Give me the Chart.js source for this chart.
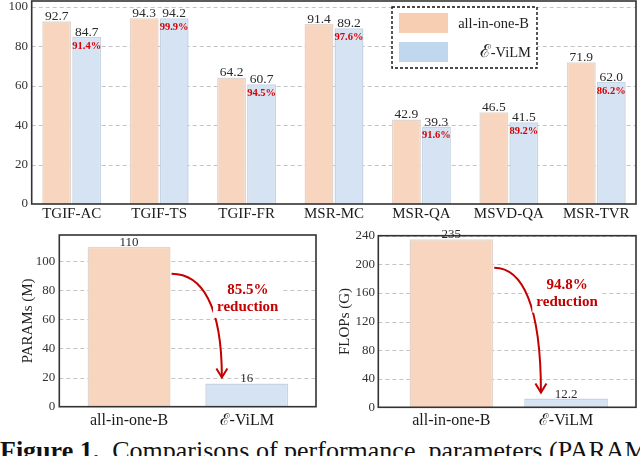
<!DOCTYPE html>
<html>
<head>
<meta charset="utf-8">
<script src="https://cdn.jsdelivr.net/npm/chart.js@4.4.1/dist/chart.umd.min.js"></script>
<style>
  html, body { margin: 0; padding: 0; background: #fff; }
  body { width: 640px; height: 456px; overflow: hidden; position: relative; }
  canvas { position: absolute; }
  #caption {
    position: absolute; left: 0; top: 438px; white-space: nowrap;
    font-family: "Liberation Serif", serif; font-size: 26px; line-height: 26px; color: #111;
  }
</style>
</head>
<body>
<canvas id="perfChart" width="640" height="228" style="left:0;top:0;width:640px;height:228px"></canvas>
<canvas id="paramChart" width="320" height="205" style="left:0;top:228px;width:320px;height:205px"></canvas>
<canvas id="flopChart" width="320" height="205" style="left:320px;top:228px;width:320px;height:205px"></canvas>
<div id="caption"><b>Figure 1.</b>&nbsp; Comparisons of performance, parameters (PARAMs), and FLOPs</div>
<script>
// data
const tasks = ["TGIF-AC", "TGIF-TS", "TGIF-FR", "MSR-MC", "MSR-QA", "MSVD-QA", "MSR-TVR"];
const allInOne = [92.7, 94.3, 64.2, 91.4, 42.9, 46.5, 71.9];
const eVilm = [84.7, 94.2, 60.7, 89.2, 39.3, 41.5, 62.0];
const models = ["all-in-one-B", "\u2130-ViLM"];
const params = [110, 16];
const flops = [235, 12.2];
const perfTicks = [0, 20, 40, 60, 80, 100];
const paramTicks = [0, 20, 40, 60, 80, 100];
const flopTicks = [0, 40, 80, 120, 160, 200, 240];

const SERIF = '"Liberation Serif", "DejaVu Serif", serif';
const peach = "rgb(248,213,190)";
const peachEdge = "rgb(226,214,206)";
const blue = "rgb(213,227,243)";
const blueEdge = "rgb(198,212,228)";
const red = "#c40000";

Chart.defaults.font.family = SERIF;
Chart.defaults.color = "#222";
Chart.defaults.animation = false;

// frame, dashed grid, value labels, legend and arrow
const decor = {
  id: "decor",
  beforeDatasetsDraw(chart, args, o) {
    const { ctx, chartArea: a } = chart;
    const y = chart.scales.y;
    const L = a.left + o.frame[0], R = a.right + o.frame[1];
    ctx.save();
    ctx.strokeStyle = "#c4c4c4";
    ctx.lineWidth = 1;
    ctx.setLineDash([4, 3]);
    y.ticks.forEach(t => {
      if (t.value === 0) return;
      const py = Math.round(y.getPixelForValue(t.value)) + 0.5;
      ctx.beginPath();
      ctx.moveTo(L, py);
      ctx.lineTo(R, py);
      ctx.stroke();
    });
    ctx.restore();
  },
  afterDatasetsDraw(chart, args, o) {
    const { ctx, chartArea: a } = chart;
    const y = chart.scales.y;
    const L = a.left + o.frame[0], R = a.right + o.frame[1];
    ctx.save();
    ctx.strokeStyle = "#333";
    ctx.lineWidth = 1.6;
    ctx.strokeRect(L, a.top, R - L, a.bottom - a.top);

    // values on top of bars
    ctx.fillStyle = "#2a2a2a";
    ctx.textAlign = "center";
    ctx.textBaseline = "alphabetic";
    ctx.font = o.valueFont + "px " + SERIF;
    chart.data.datasets.forEach((ds, i) => {
      chart.getDatasetMeta(i).data.forEach((el, j) => {
        ctx.fillText(o.fmt(ds.data[j]), el.x, el.y - 1);
      });
    });

    // kept-performance ratios inside the second series
    if (o.ratios) {
      const base = chart.data.datasets[0].data;
      const ours = chart.data.datasets[1].data;
      ctx.fillStyle = "#d80000";
      ctx.font = "bold 10.5px " + SERIF;
      ctx.textBaseline = "middle";
      chart.getDatasetMeta(1).data.forEach((el, j) => {
        ctx.fillText((ours[j] / base[j] * 100).toFixed(1) + "%", el.x, el.y + 9);
      });
    }

    // legend with dashed box
    if (o.legend) {
      const g = o.legend;
      ctx.setLineDash([3, 2]);
      ctx.lineWidth = 1.4;
      ctx.strokeStyle = "#111";
      ctx.fillStyle = "#fff";
      ctx.fillRect(g.x, g.y, g.w, g.h);
      ctx.strokeRect(g.x, g.y, g.w, g.h);
      ctx.setLineDash([]);
      g.swatches.forEach((c, i) => {
        const sy = g.y + 6 + i * 29;
        ctx.fillStyle = c;
        ctx.fillRect(g.x + 7, sy, 49, 20);
      });
      ctx.fillStyle = "#222";
      ctx.textAlign = "right";
      ctx.textBaseline = "middle";
      ctx.font = "14.5px " + SERIF;
      ctx.fillText(chart.data.datasets[0].label, g.x + g.w - 8, g.y + 17);
      const lab = chart.data.datasets[1].label;
      const rest = lab.slice(1);
      const rw = ctx.measureText(rest).width;
      ctx.fillText(rest, g.x + g.w - 6, g.y + 46);
      ctx.font = "18px " + SERIF;
      ctx.fillText(lab[0], g.x + g.w - 6 - rw, g.y + 45);
    }

    // reduction arrow between the two bars
    if (o.arrow) {
      const vals = chart.data.datasets[0].data;
      const [b0, b1] = chart.getDatasetMeta(0).data;
      const sx = b0.x + b0.width / 2 + 1;
      const sy = y.getPixelForValue(vals[0] * 0.83);
      const ex = b1.x - b1.width * 0.3;
      const ey = b1.y - 6;
      ctx.strokeStyle = red;
      ctx.lineWidth = 2;
      ctx.beginPath();
      ctx.moveTo(sx, sy);
      ctx.bezierCurveTo(sx + (ex - sx) * 0.6, sy, ex, sy + (ey - sy) * 0.3, ex, ey);
      ctx.stroke();
      ctx.beginPath();
      ctx.moveTo(ex - 5.5, ey - 9);
      ctx.lineTo(ex, ey);
      ctx.lineTo(ex + 5.5, ey - 9);
      ctx.stroke();

      const pct = ((1 - vals[1] / vals[0]) * 100).toFixed(1) + "%";
      const tx = b1.x + 1;
      const ty = y.getPixelForValue(vals[0] * 0.73);
      ctx.font = "bold 15px " + SERIF;
      ctx.textAlign = "center";
      ctx.textBaseline = "middle";
      ctx.fillStyle = "#fff";
      const w = ctx.measureText("reduction").width + 8;
      ctx.fillRect(tx - w / 2, ty - 10, w, 38);
      ctx.fillStyle = red;
      ctx.fillText(pct, tx, ty);
      ctx.fillText("reduction", tx, ty + 17);
    }
    ctx.restore();
  }
};

function yAxis(ticksArr, max, width, pad, size, title, titlePad) {
  return {
    min: 0,
    max: max,
    afterBuildTicks: s => { s.ticks = ticksArr.map(v => ({ value: v })); },
    afterFit: s => { s.width = width; s.paddingTop = 0; s.paddingBottom = 0; },
    grid: { display: false, drawTicks: false },
    border: { display: false },
    ticks: { padding: pad, color: "#333", font: { size: size } },
    title: title ? { display: true, text: title, color: "#222", font: { size: 15 }, padding: { top: titlePad } } : { display: false }
  };
}

function xAxis(height, pad, size) {
  return {
    afterFit: s => { s.height = height; s.paddingLeft = 0; s.paddingRight = 0; },
    grid: { display: false, drawTicks: false },
    border: { display: false },
    ticks: { padding: pad, color: "#1a1a1a", font: { size: size }, maxRotation: 0, autoSkip: false }
  };
}

new Chart(document.getElementById("perfChart"), {
  type: "bar",
  data: {
    labels: tasks,
    datasets: [
      { label: models[0], data: allInOne, backgroundColor: peach, borderColor: peachEdge, borderWidth: 1.5,
        categoryPercentage: 0.686, barPercentage: 0.965 },
      { label: models[1], data: eVilm, backgroundColor: blue, borderColor: blueEdge, borderWidth: 1.5,
        categoryPercentage: 0.686, barPercentage: 0.965 }
    ]
  },
  options: {
    responsive: false,
    layout: { padding: { top: 1, right: 0, bottom: 0, left: 0 } },
    scales: { x: xAxis(24, 1, 15), y: yAxis(perfTicks, 103, 28, 0, 13) },
    plugins: {
      legend: { display: false },
      tooltip: { enabled: false },
      decor: {
        frame: [3.7, -4],
        valueFont: 13.5,
        fmt: v => v.toFixed(1),
        ratios: true,
        legend: { x: 392, y: 7, w: 145, h: 61, swatches: ["rgb(248,206,178)", "rgb(192,216,238)"] }
      }
    }
  },
  plugins: [decor]
});

new Chart(document.getElementById("paramChart"), {
  type: "bar",
  data: {
    labels: models,
    datasets: [
      { label: "PARAMs (M)", data: params, backgroundColor: [peach, blue], borderColor: [peachEdge, blueEdge],
        borderWidth: 1.5, categoryPercentage: 0.705, barPercentage: 1 }
    ]
  },
  options: {
    responsive: false,
    layout: { padding: { top: 7, right: 14.4, bottom: 0, left: 0 } },
    scales: { x: xAxis(26.3, 4, 16), y: yAxis(paramTicks, 118, 70.2, 15, 13, "PARAMs (M)", 19.5) },
    plugins: {
      legend: { display: false },
      tooltip: { enabled: false },
      decor: { frame: [-10.9, 10.4], valueFont: 13, fmt: v => String(v), arrow: true }
    }
  },
  plugins: [decor]
});

new Chart(document.getElementById("flopChart"), {
  type: "bar",
  data: {
    labels: models,
    datasets: [
      { label: "FLOPs (G)", data: flops, backgroundColor: [peach, blue], borderColor: [peachEdge, blueEdge],
        borderWidth: 1.5, categoryPercentage: 0.73, barPercentage: 1 }
    ]
  },
  options: {
    responsive: false,
    layout: { padding: { top: 7.7, right: 16.6, bottom: 0, left: 0 } },
    scales: { x: xAxis(25.7, 4, 16), y: yAxis(flopTicks, 240, 74, 19, 13, "FLOPs (G)", 16) },
    plugins: {
      legend: { display: false },
      tooltip: { enabled: false },
      decor: { frame: [-15.7, 12.6], valueFont: 13, fmt: v => String(v), arrow: true }
    }
  },
  plugins: [decor]
});
</script>
</body>
</html>
